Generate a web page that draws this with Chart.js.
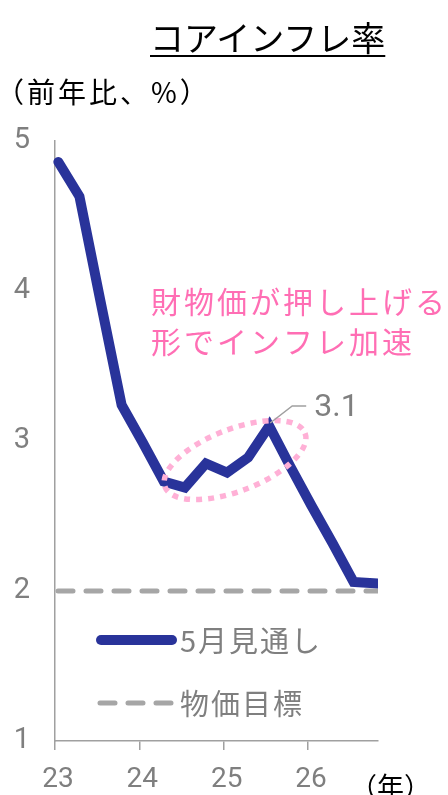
<!DOCTYPE html>
<html lang="ja">
<head>
<meta charset="utf-8">
<script src="https://cdn.jsdelivr.net/npm/chart.js@4.4.1/dist/chart.umd.min.js"></script>
<style>
  html, body { margin: 0; padding: 0; background: #fff; }
  #wrap { position: relative; width: 448px; height: 795px; overflow: hidden; }
  #chart { position: absolute; left: 0; top: 0; }
  .title {
    position: absolute; left: 150px; top: 12px; line-height: 1;
    font: 34px "Noto Sans CJK JP"; color: #000;
    text-decoration: underline; text-decoration-thickness: 2px; text-underline-offset: 4px;
    white-space: nowrap;
  }
  .unit {
    position: absolute; left: -4px; top: 71px; line-height: 1;
    font: 28px "Noto Sans CJK JP"; letter-spacing: 3px; color: #000; white-space: nowrap;
  }
  .xunit {
    position: absolute; left: 350px; top: 766px;
    font: 27px "Noto Sans CJK JP"; color: #000; white-space: nowrap;
  }
</style>
</head>
<body>
<div id="wrap">
  <canvas id="chart" width="448" height="795"></canvas>
  <div class="title">コアインフレ率</div>
  <div class="unit">（前年比、%）</div>
  <div class="xunit">（年）</div>
</div>
<script>
// quarterly path of core inflation (y/y %), x in years (23 = 2023)
const periods = [23.04, 23.29, 23.54, 23.79, 24.04, 24.29, 24.54, 24.79,
                 25.04, 25.29, 25.54, 25.79, 26.04, 26.29, 26.54, 26.83];
const coreInflation = [4.86, 4.63, 3.93, 3.24, 2.99, 2.73, 2.69, 2.85,
                       2.79, 2.89, 3.1, 2.83, 2.57, 2.32, 2.06, 2.05];
const targetRange = [23, 26.83];
const targetRate = 2;
const yearTicks = [23, 24, 25, 26];
const seriesLabel = '5月見通し';
const targetLabel = '物価目標';
const noteLines = ['財物価が押し上げる', '形でインフレ加速'];
const peakIndex = 10;

const NAVY = '#29339a';
const GRAY = '#a6a6a6';
const TEXT_GRAY = '#7f7f7f';
const PINK = '#ff6eb4';
const LIGHT_PINK = '#ffb0d6';
const JP = '"Noto Sans CJK JP", "Noto Sans", sans-serif';

// legend, pink note, dotted ellipse and the peak label
const overlay = {
  id: 'overlay',
  afterDatasetsDraw(chart) {
    const ctx = chart.ctx;
    const x = chart.scales.x, y = chart.scales.y;
    const ds = chart.data.datasets;

    // dotted ellipse round the 2024-25 bump
    ctx.save();
    ctx.strokeStyle = LIGHT_PINK;
    ctx.lineWidth = 5.5;
    ctx.setLineDash([6, 6]);
    ctx.beginPath();
    ctx.ellipse(x.getPixelForValue(25.135), y.getPixelForValue(2.873), 75, 31,
                -21 * Math.PI / 180, 0, Math.PI * 2);
    ctx.stroke();
    ctx.restore();

    // peak label with leader
    const px = x.getPixelForValue(periods[peakIndex]);
    const py = y.getPixelForValue(coreInflation[peakIndex]);
    ctx.save();
    ctx.strokeStyle = '#a0a0a0';
    ctx.lineWidth = 1.5;
    ctx.beginPath();
    ctx.moveTo(px + 1, py - 3);
    ctx.lineTo(px + 23, py - 20);
    ctx.lineTo(px + 37, py - 20);
    ctx.stroke();
    ctx.fillStyle = TEXT_GRAY;
    ctx.font = '32px Roboto';
    ctx.textBaseline = 'middle';
    ctx.fillText(coreInflation[peakIndex].toFixed(1), px + 45, py - 18);
    ctx.restore();

    // note
    ctx.save();
    ctx.fillStyle = PINK;
    ctx.font = '30px ' + JP;
    ctx.letterSpacing = '3px';
    ctx.textBaseline = 'middle';
    noteLines.forEach((t, i) => ctx.fillText(t, 151, 302 + i * 40));
    ctx.restore();

    // legend
    const rows = [
      { ds: ds[0], text: seriesLabel, y: 640 },
      { ds: ds[1], text: targetLabel, y: 703 }
    ];
    rows.forEach(r => {
      ctx.save();
      ctx.strokeStyle = r.ds.borderColor;
      ctx.lineWidth = r.ds.borderWidth;
      ctx.lineCap = 'round';
      ctx.setLineDash(r.ds.borderDash || []);
      ctx.beginPath();
      ctx.moveTo(r.ds.borderDash ? 100 : 101, r.y);
      ctx.lineTo(172, r.y);
      ctx.stroke();
      ctx.setLineDash([]);
      ctx.fillStyle = TEXT_GRAY;
      ctx.font = '29px ' + JP;
      ctx.letterSpacing = '2px';
      ctx.textBaseline = 'middle';
      ctx.fillText(r.text, 180, r.y + 1);
      ctx.restore();
    });
  }
};

new Chart(document.getElementById('chart'), {
  type: 'line',
  data: {
    datasets: [
      {
        label: seriesLabel,
        data: periods.map((p, i) => ({ x: p, y: coreInflation[i] })),
        borderColor: NAVY,
        borderWidth: 10,
        borderCapStyle: 'round',
        borderJoinStyle: 'miter',
        pointRadius: 0,
        tension: 0,
        clip: { left: 6, top: 6, right: 0, bottom: 6 }
      },
      {
        label: targetLabel,
        data: targetRange.map(v => ({ x: v, y: targetRate })),
        borderColor: GRAY,
        borderWidth: 5,
        borderDash: [15, 13],
        borderDashOffset: -3,
        borderCapStyle: 'round',
        pointRadius: 0,
        clip: 0
      }
    ]
  },
  options: {
    responsive: false,
    animation: false,
    events: [],
    layout: { padding: { top: 141, right: 70, left: 0, bottom: 0 } },
    plugins: { legend: { display: false }, tooltip: { enabled: false } },
    scales: {
      x: {
        type: 'linear',
        min: 23,
        max: 26.83,
        afterBuildTicks: s => { s.ticks = yearTicks.map(v => ({ value: v })); },
        afterFit: s => { s.height = 54; },
        grid: { drawOnChartArea: false, drawTicks: true, tickLength: 9, color: '#a0a0a0', lineWidth: 1.5 },
        border: { color: '#a0a0a0', width: 1.5 },
        ticks: {
          color: TEXT_GRAY,
          font: { family: 'Roboto', size: 28 },
          padding: 13,
          labelOffset: 3,
          maxRotation: 0,
          callback: v => String(v)
        }
      },
      y: {
        min: 1,
        max: 5,
        afterFit: s => { s.width = 55; },
        grid: { display: false, drawTicks: false },
        border: { display: true, color: '#a0a0a0', width: 1.5 },
        ticks: {
          stepSize: 1,
          color: TEXT_GRAY,
          font: { family: 'Roboto', size: 29 },
          padding: 25
        }
      }
    }
  },
  plugins: [overlay]
});
</script>
</body>
</html>
